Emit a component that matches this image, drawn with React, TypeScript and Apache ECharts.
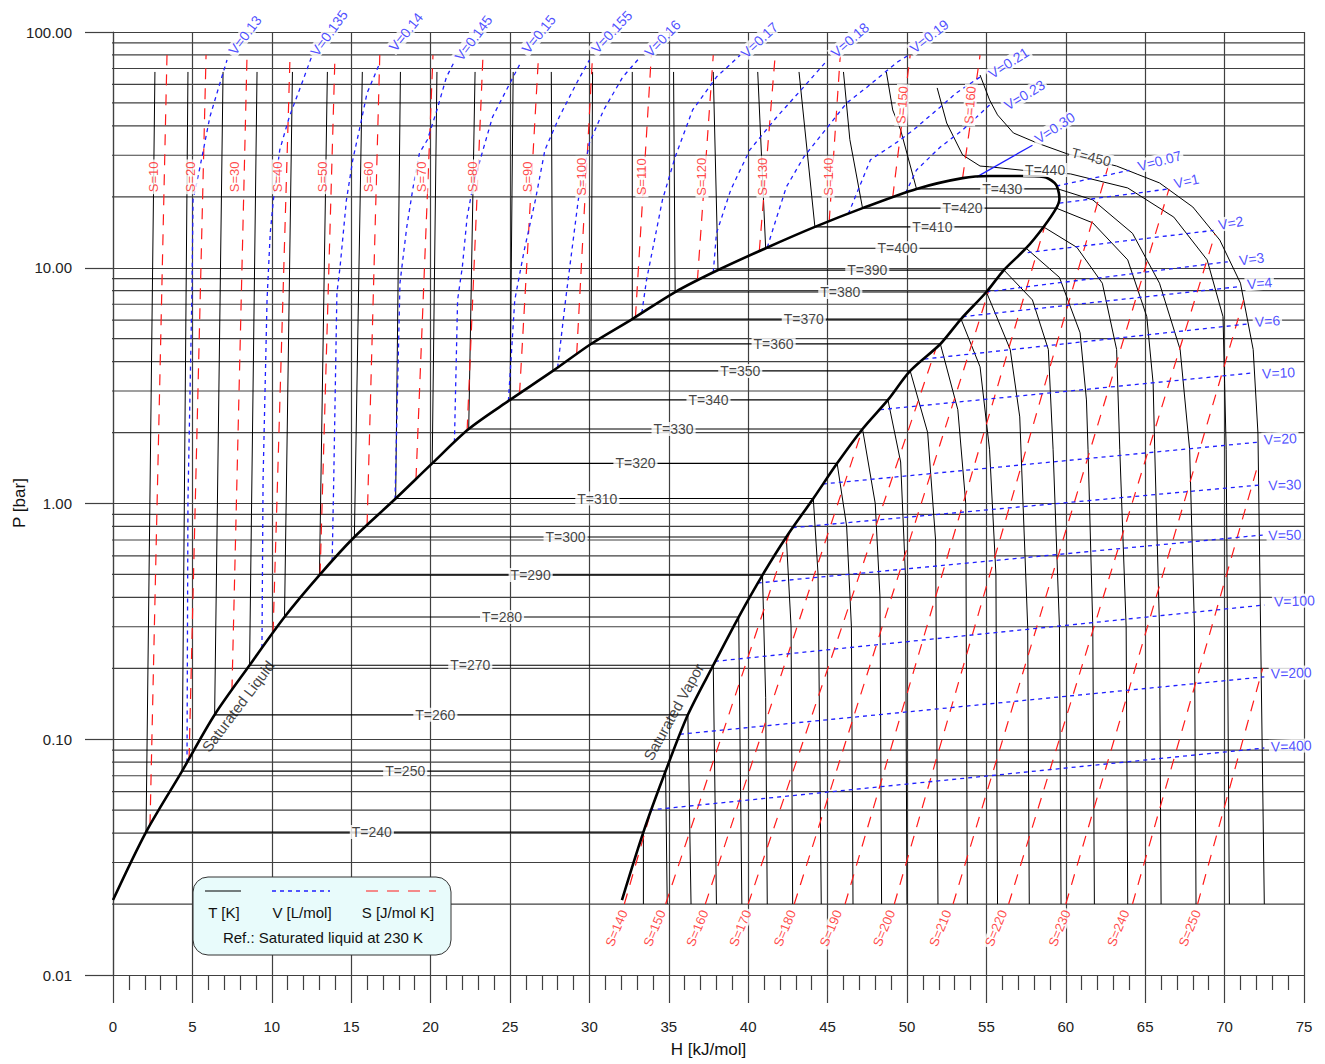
import React, { useEffect, useRef } from "react";
import * as echarts from "echarts";

type Pt = [number, number];
const FONT = '"Liberation Sans", Arial, Helvetica, sans-serif';
const RED = "#ff1a1a";
const BLUE = "#1f1fff";
const BLACK = "#000000";
const GRID = "#404040";

// ---------- axes ----------
const H_MIN = 0;
const H_MAX = 75;
const H_STEP = 5;
const P_MIN = 0.01;
const P_MAX = 100;
const Y_TICK_LABELS = ["0.01", "0.10", "1.00", "10.00", "100.00"];
const X_NAME = "H [kJ/mol]";
const Y_NAME = "P [bar]";
const DECADES = [0.01, 0.1, 1, 10];
const MINOR_MULT = [2, 3, 4, 5, 6, 7, 8, 9];

// ---------- saturation (two-phase) ----------
const T_SAT = [240, 250, 260, 270, 280, 290, 300, 310, 320, 330, 340, 350, 360, 370, 380, 390, 400, 410, 420, 430];
const P_SAT = [0.0404, 0.0733, 0.127, 0.206, 0.33, 0.497, 0.721, 1.05, 1.48, 2.07, 2.75, 3.65, 4.75, 6.06, 7.89, 9.78, 12.1, 14.9, 17.9, 21.6];
const H_LIQ = [2.08, 4.35, 6.4, 8.6, 10.8, 13.0, 15.2, 17.8, 20.1, 22.4, 25.0, 27.7, 30.1, 32.7, 35.4, 38.1, 41.1, 44.2, 47.2, 50.6];
const H_VAP = [33.4, 34.8, 36.2, 37.8, 39.4, 40.9, 42.4, 44.1, 45.6, 47.2, 48.8, 50.2, 52.1, 53.4, 55.0, 56.1, 57.5, 58.6, 59.4, 59.5];
const DOME_START: Pt = [0, 0.0208];
const DOME_TOP: Pt[] = [[53.5, 24.0], [55.2, 24.5], [57.1, 24.5], [58.6, 24.3], [59.3, 22.9]];
const DOME_NOSE: Pt = [59.6, 19.6];
const DOME_END: Pt = [32.05, 0.0208];
const T_LABEL_H = [16.3, 18.4, 20.3, 22.5, 24.5, 26.3, 28.5, 30.5, 32.9, 35.3, 37.5, 39.5, 41.6, 43.5, 45.8, 47.5, 49.4, 51.6, 53.5, 56.0];

// ---------- isotherms, liquid side (from saturated liquid up to the top) ----------
const P_LIQ_TOP = 67.7;
const T_LIQ_TOP_H = [2.64, 4.72, 6.93, 9.07, 11.3, 13.5, 15.7, 18.1, 20.4, 22.8, 25.2, 27.6, 30.2, 32.7, 35.3, 37.8, 40.6, 43.2, 46.0, 48.7];
const T_LIQ_MID: Record<number, Pt[]> = {
  420: [[46.4, 35.0]],
  430: [[49.6, 38.4], [49.1, 46.7]],
};

// ---------- isotherms, vapour side (below the saturated vapour point) ----------
const T_VAP_TAIL: Pt[][] = [
  [[33.4, 0.02]],
  [[34.9, 0.02]],
  [[36.4, 0.02]],
  [[38.0, 0.02]],
  [[39.6, 0.02]],
  [[41.1, 0.15], [41.2, 0.02]],
  [[42.7, 0.3], [42.8, 0.02]],
  [[44.4, 0.5], [44.6, 0.02]],
  [[46.2, 0.8], [46.5, 0.3], [46.6, 0.02]],
  [[48.0, 1.0], [48.3, 0.4], [48.4, 0.02]],
  [[49.6, 1.5], [49.9, 0.5], [50.0, 0.02]],
  [[51.3, 2.0], [51.8, 0.7], [51.95, 0.02]],
  [[53.2, 2.5], [53.7, 1.0], [53.8, 0.02]],
  [[54.6, 3.8], [55.2, 1.69], [55.6, 0.5], [55.7, 0.02]],
  [[56.5, 4.5], [57.1, 2.33], [57.6, 0.3], [57.7, 0.02]],
  [[57.9, 7.3], [58.9, 4.5], [59.2, 1.69], [59.6, 0.3], [59.7, 0.02]],
  [[59.6, 9.1], [60.9, 5.3], [61.3, 2.75], [61.4, 1.69], [61.7, 0.3], [61.8, 0.02]],
  [[60.7, 12.2], [62.3, 8.6], [63.2, 4.5], [63.4, 1.69], [63.8, 0.3], [63.9, 0.02]],
  [[61.7, 15.5], [63.9, 10.8], [65.1, 6.2], [65.5, 3.24], [65.6, 1.69], [65.9, 0.3], [66.0, 0.02]],
  [[61.7, 19.4], [64.2, 14.0], [65.9, 8.6], [67.2, 4.5], [67.8, 1.69], [68.1, 0.3], [68.2, 0.02]],
];

// ---------- supercritical isotherms ----------
const T_440: Pt[] = [[51.9, 57.9], [52.5, 41.1], [53.5, 30.1], [54.6, 27.0], [55.2, 26.8], [57.3, 25.9], [60.3, 25.0], [63.9, 21.8], [66.8, 16.4], [68.9, 10.8], [69.9, 6.2], [70.0, 3.24], [70.1, 1.69], [70.3, 0.02]];
const T_450: Pt[] = [[54.6, 65.7], [55.2, 51.5], [55.7, 44.5], [56.7, 37.3], [58.2, 33.8], [60.1, 30.4], [63.2, 27.0], [65.9, 22.9], [68.0, 18.1], [69.7, 13.1], [71.0, 8.6], [71.8, 4.5], [72.1, 1.99], [72.5, 0.02]];
const T_440_LABEL: Pt = [58.7, 26.0];
const T_450_LABEL: Pt = [61.6, 29.5];

// ---------- isentropes, liquid side ----------
const S_LIQ_VALUES = [10, 20, 30, 40, 50, 60, 70, 80, 90, 100, 110, 120, 130, 140, 150, 160];
const S_LIQ_BOTTOM: Pt[] = [[2.33, 0.0432], [4.79, 0.0824], [7.49, 0.161], [10.08, 0.283], [13.04, 0.5], [16.0, 0.809], [19.08, 1.27], [22.3, 2.04], [25.6, 2.92], [29.2, 4.31], [32.9, 6.17], [36.8, 8.81], [40.7, 11.8], [45.1, 15.7], [49.1, 19.9], [53.5, 24.0]];
const S_LIQ_TOP_H = [3.4, 5.86, 8.44, 11.15, 13.98, 16.8, 20.15, 23.3, 26.8, 30.2, 33.9, 37.8, 41.7, 45.8, 50.2, 54.6];
const P_S_TOP = 79.8;
const S_LIQ_LABEL_H = [2.58, 4.91, 7.68, 10.39, 13.22, 16.12, 19.4, 22.67, 26.13, 29.53, 33.31, 37.09, 40.93, 45.03, 49.69, 53.97];
const S_LIQ_LABEL_P = [24.3, 24.3, 24.3, 24.3, 24.3, 24.3, 24.3, 24.3, 24.3, 24.3, 24.3, 24.3, 24.3, 24.3, 49.0, 49.0];

// ---------- isentropes, vapour side ----------
const S_VAP_VALUES = [140, 150, 160, 170, 180, 190, 200, 210, 220, 230, 240, 250];
const S_VAP_BOTTOM_H = [32.2, 34.8, 37.3, 40.0, 42.9, 46.1, 49.2, 52.9, 56.4, 60.0, 64.2, 68.3];
const P_BOTTOM = 0.02;
const S_VAP_END: Pt[] = [[33.9, 0.0501], [42.6, 0.75], [47.2, 2.07], [51.8, 4.5], [55.2, 8.2], [58.7, 15.2], [62.7, 27.4], [66.5, 21.6], [69.4, 13.9], [71.2, 7.3], [72.15, 1.5], [72.4, 0.2]];
const S_VAP_LABEL_H = [31.7, 34.1, 36.8, 39.5, 42.3, 45.2, 48.55, 52.1, 55.6, 59.6, 63.3, 67.8];
const S_VAP_LABEL_P = 0.0158;

// ---------- isochores, liquid side ----------
const V_LIQ_NAMES = ["0.13", "0.135", "0.14", "0.145", "0.15", "0.155", "0.16", "0.17", "0.18", "0.19", "0.21", "0.23", "0.30"];
const V_LIQ_LINES: Pt[][] = [
  [[4.66, 0.0796], [4.72, 1.03], [4.97, 7.8], [5.04, 19.4], [5.48, 26.8], [6.1, 43.6], [6.74, 60.8], [7.18, 76.1]],
  [[9.38, 0.244], [9.45, 1.26], [9.7, 7.3], [9.9, 14.0], [10.1, 19.4], [10.5, 31.6], [11.1, 43.6], [11.9, 60.8], [12.5, 78.3]],
  [[13.8, 0.569], [13.9, 1.26], [14.1, 7.8], [14.3, 10.1], [14.7, 19.4], [15.1, 28.7], [15.55, 39.5], [16.0, 55.1], [16.8, 73.8]],
  [[17.76, 1.04], [18.07, 8.6], [18.5, 14.9], [18.9, 22.0], [19.3, 30.7], [19.8, 34.9], [20.4, 46.7], [21.0, 64.4], [21.5, 75.0]],
  [[21.5, 1.82], [21.7, 7.3], [22.0, 10.1], [22.3, 16.4], [22.7, 22.9], [23.3, 31.6], [23.9, 43.6], [25.1, 62.6], [25.6, 72.5]],
  [[24.9, 2.72], [25.3, 7.3], [25.9, 11.9], [26.6, 19.4], [27.2, 31.6], [28.1, 43.6], [29.2, 60.8], [30.0, 76.1]],
  [[28.0, 3.77], [28.5, 7.3], [28.9, 11.9], [29.3, 19.4], [30.0, 33.8], [30.9, 46.7], [32.1, 64.4], [33.2, 78.3]],
  [[33.3, 6.43], [33.6, 8.9], [34.1, 13.1], [34.6, 19.4], [35.4, 29.5], [36.5, 46.7], [38.0, 64.4], [39.5, 79.8]],
  [[37.8, 9.55], [38.0, 14.0], [38.9, 21.4], [40.1, 31.6], [41.8, 43.6], [43.5, 58.5], [45.0, 76.1]],
  [[41.2, 12.2], [41.8, 16.4], [42.4, 22.0], [43.5, 29.5], [45.0, 39.5], [46.2, 50.0], [47.5, 58.5], [49.4, 74.6], [50.1, 79.8]],
  [[46.3, 16.9], [47.7, 28.7], [49.4, 34.2], [50.4, 38.4], [52.1, 48.1], [53.1, 55.1], [54.6, 64.4]],
  [[49.9, 20.7], [50.6, 26.0], [52.1, 32.5], [53.5, 38.4], [55.2, 49.0]],
  [[54.4, 24.3], [57.9, 33.1]],
];
const V_LIQ_LABEL: Pt[] = [[8.31, 97], [13.6, 99], [18.45, 100], [22.7, 94.3], [26.8, 98], [31.4, 100], [34.6, 94], [40.7, 92.5], [46.4, 92.5], [51.4, 96], [56.4, 73.9], [57.4, 54.1], [59.3, 39.2]];
const V_LIQ_ROT = [53, 54, 51, 53, 51, 47, 46, 43, 41, 38, 33, 31, 33];

// ---------- isochores, vapour side ----------
const V_VAP_NAMES = ["0.07", "1", "2", "3", "4", "6", "10", "20", "30", "50", "100", "200", "400"];
const V_VAP_START: Pt[] = [[59.4, 22.2], [59.6, 18.8], [57.6, 11.6], [55.0, 7.9], [53.5, 6.2], [51.1, 4.1], [48.3, 2.5], [44.7, 1.21], [42.8, 0.79], [40.6, 0.46], [37.9, 0.214], [35.7, 0.105], [33.8, 0.0501]];
const V_VAP_END: Pt[] = [[64.0, 25.9], [66.5, 21.6], [69.3, 14.4], [70.2, 10.6], [70.8, 8.3], [71.4, 5.77], [71.8, 3.58], [72.1, 1.82], [72.35, 1.2], [72.4, 0.735], [72.5, 0.371], [72.5, 0.184], [72.5, 0.0918]];
const V_VAP_LABEL: Pt[] = [[65.9, 28.4], [67.6, 23.3], [70.4, 15.5], [71.7, 10.9], [72.2, 8.6], [72.7, 5.94], [73.4, 3.58], [73.5, 1.88], [73.8, 1.2], [73.8, 0.735], [74.4, 0.386], [74.2, 0.191], [74.2, 0.0936]];
const V_VAP_ROT = [15, 13, 10, 7, 5, 4, 3, 3, 2, 2, 2, 2, 2];

// ---------- other texts ----------
const SAT_LIQ_TEXT = { text: "Saturated Liquid", at: [7.87, 0.138] as Pt, rot: 53 };
const SAT_VAP_TEXT = { text: "Saturated Vapor", at: [35.3, 0.1306] as Pt, rot: 61 };
const LEGEND_ITEMS = ["T [K]", "V [L/mol]", "S [J/mol K]"];
const LEGEND_REF = "Ref.: Saturated liquid at 230 K";

type Lbl = { at: Pt; text: string; rot?: number; color: string; size?: number; bg?: boolean };

function lineSeries(data: Pt[], color: string, width: number, type: any, z = 2, clip = true) {
  return {
    type: "line",
    data,
    symbol: "none",
    showSymbol: false,
    silent: true,
    clip,
    z,
    lineStyle: { color, width, type, cap: "butt" },
  };
}

export default function App() {
  const ref = useRef<HTMLDivElement>(null);

  useEffect(() => {
    if (!ref.current) return;
    const chart = echarts.init(ref.current, undefined, { renderer: "svg" });
    const series: any[] = [];

    // minor horizontal grid lines (extend a little left of the axis)
    DECADES.forEach((d) => {
      MINOR_MULT.forEach((m) => {
        const p = d * m;
        series.push(lineSeries([[-0.88, p], [H_MAX, p]], GRID, 1.2, "solid", 1, false));
      });
    });

    // two-phase isotherms
    T_SAT.forEach((_, i) => {
      series.push(lineSeries([[H_LIQ[i], P_SAT[i]], [H_VAP[i], P_SAT[i]]], BLACK, 1.2, "solid", 3));
    });
    // liquid isotherms
    T_SAT.forEach((t, i) => {
      const pts: Pt[] = [[H_LIQ[i], P_SAT[i]], ...(T_LIQ_MID[t] || []), [T_LIQ_TOP_H[i], P_LIQ_TOP]];
      series.push(lineSeries(pts, BLACK, 1, "solid", 3));
    });
    // vapour isotherms
    T_SAT.forEach((_, i) => {
      const pts: Pt[] = [[H_VAP[i], P_SAT[i]], ...T_VAP_TAIL[i]];
      series.push(lineSeries(pts, BLACK, 1, "solid", 3));
    });
    series.push(lineSeries(T_440, BLACK, 1, "solid", 3));
    series.push(lineSeries(T_450, BLACK, 1, "solid", 3));

    // isentropes
    S_LIQ_VALUES.forEach((_, i) => {
      series.push(lineSeries([S_LIQ_BOTTOM[i], [S_LIQ_TOP_H[i], P_S_TOP]], RED, 1.2, [11, 9], 4));
    });
    S_VAP_VALUES.forEach((_, i) => {
      series.push(lineSeries([[S_VAP_BOTTOM_H[i], P_BOTTOM], S_VAP_END[i]], RED, 1.2, [11, 9], 4));
    });

    // isochores
    V_LIQ_LINES.forEach((pts, i) => {
      const solid = V_LIQ_NAMES[i] === "0.30";
      series.push(lineSeries(pts, BLUE, 1.3, solid ? "solid" : [4, 4], 5));
    });
    V_VAP_NAMES.forEach((_, i) => {
      series.push(lineSeries([V_VAP_START[i], V_VAP_END[i]], BLUE, 1.3, [4, 4], 5));
    });

    // saturation dome
    const dome: Pt[] = [DOME_START];
    T_SAT.forEach((_, i) => dome.push([H_LIQ[i], P_SAT[i]]));
    DOME_TOP.forEach((p) => dome.push(p));
    dome.push([H_VAP[H_VAP.length - 1], P_SAT[P_SAT.length - 1]]);
    dome.push(DOME_NOSE);
    for (let i = T_SAT.length - 2; i >= 0; i--) dome.push([H_VAP[i], P_SAT[i]]);
    dome.push(DOME_END);
    series.push({ ...lineSeries(dome, BLACK, 2.6, "solid", 6), smooth: 0.3 });

    // labels
    const labels: Lbl[] = [];
    T_SAT.forEach((t, i) => labels.push({ at: [T_LABEL_H[i], P_SAT[i]], text: `T=${t}`, color: "#111", size: 14 }));
    labels.push({ at: T_440_LABEL, text: "T=440", color: "#111", size: 14 });
    labels.push({ at: T_450_LABEL, text: "T=450", color: "#111", size: 14, rot: -14 });
    S_LIQ_VALUES.forEach((s, i) => labels.push({ at: [S_LIQ_LABEL_H[i], S_LIQ_LABEL_P[i]], text: `S=${s}`, color: RED, size: 13, rot: i >= 14 ? 86 : 90 }));
    S_VAP_VALUES.forEach((s, i) => labels.push({ at: [S_VAP_LABEL_H[i], S_VAP_LABEL_P], text: `S=${s}`, color: RED, size: 13, rot: 67 }));
    V_LIQ_NAMES.forEach((v, i) => labels.push({ at: V_LIQ_LABEL[i], text: `V=${v}`, color: BLUE, size: 14, rot: V_LIQ_ROT[i] }));
    V_VAP_NAMES.forEach((v, i) => labels.push({ at: V_VAP_LABEL[i], text: `V=${v}`, color: BLUE, size: 14, rot: V_VAP_ROT[i] }));
    labels.push({ at: SAT_LIQ_TEXT.at, text: SAT_LIQ_TEXT.text, color: "#111", size: 15, rot: SAT_LIQ_TEXT.rot, bg: false });
    labels.push({ at: SAT_VAP_TEXT.at, text: SAT_VAP_TEXT.text, color: "#111", size: 15, rot: SAT_VAP_TEXT.rot, bg: false });

    series.push({
      type: "scatter",
      silent: true,
      clip: false,
      z: 10,
      symbolSize: 1,
      itemStyle: { color: "rgba(0,0,0,0)" },
      data: labels.map((l) => ({
        value: l.at,
        label: {
          show: true,
          position: "inside",
          formatter: l.text,
          rotate: l.rot || 0,
          color: l.color,
          fontSize: l.size || 13,
          fontFamily: FONT,
          backgroundColor: l.bg === false ? "transparent" : "#ffffff",
          padding: [0, 2],
        },
      })),
    });

    chart.setOption({
      animation: false,
      backgroundColor: "#ffffff",
      grid: { left: 113, top: 32, width: 1191, height: 943, containLabel: false, outerBoundsMode: "none" },
      xAxis: {
        type: "value",
        min: H_MIN,
        max: H_MAX,
        interval: H_STEP,
        name: X_NAME,
        nameLocation: "middle",
        nameGap: 66,
        nameTextStyle: { fontSize: 17, color: "#111", fontFamily: FONT },
        axisLine: { show: true, lineStyle: { color: GRID, width: 1.2 } },
        axisTick: { show: true, length: 28, lineStyle: { color: GRID, width: 1.2 } },
        minorTick: { show: true, splitNumber: 5, length: 15, lineStyle: { color: GRID, width: 1.2 } },
        axisLabel: { margin: 44, fontSize: 15, color: "#222", fontFamily: FONT },
        splitLine: { show: true, lineStyle: { color: GRID, width: 1.2 } },
      },
      yAxis: {
        type: "log",
        logBase: 10,
        min: P_MIN,
        max: P_MAX,
        axisLine: { show: true, lineStyle: { color: GRID, width: 1.2 } },
        axisTick: { show: true, length: 28, lineStyle: { color: GRID, width: 1.2 } },
        axisLabel: {
          margin: 41,
          fontSize: 15,
          color: "#222",
          fontFamily: FONT,
          formatter: (_v: number, i: number) => Y_TICK_LABELS[i] ?? String(_v),
        },
        splitLine: { show: true, lineStyle: { color: GRID, width: 1.2 } },
      },
      series,
      graphic: [
        {
          type: "text",
          x: 19,
          y: 503,
          rotation: Math.PI / 2,
          style: { text: Y_NAME, fill: "#111", font: `17px ${FONT}`, textAlign: "center", textVerticalAlign: "middle" },
        },
        {
          type: "rect",
          z: 100,
          shape: { x: 193, y: 877, width: 258, height: 78, r: 15 },
          style: { fill: "#e8fbfb", stroke: "#333", lineWidth: 1 },
        },
        { type: "line", z: 101, shape: { x1: 205, y1: 891, x2: 241, y2: 891 }, style: { stroke: BLACK, lineWidth: 1.2 } },
        { type: "line", z: 101, shape: { x1: 272, y1: 891, x2: 330, y2: 891 }, style: { stroke: BLUE, lineWidth: 1.3, lineDash: [4, 4] } },
        { type: "line", z: 101, shape: { x1: 366, y1: 891, x2: 436, y2: 891 }, style: { stroke: RED, lineWidth: 1.2, lineDash: [12, 9] } },
        { type: "text", z: 101, x: 224, y: 912, style: { text: LEGEND_ITEMS[0], fill: "#111", font: `15px ${FONT}`, textAlign: "center", textVerticalAlign: "middle" } },
        { type: "text", z: 101, x: 302, y: 912, style: { text: LEGEND_ITEMS[1], fill: "#111", font: `15px ${FONT}`, textAlign: "center", textVerticalAlign: "middle" } },
        { type: "text", z: 101, x: 398, y: 912, style: { text: LEGEND_ITEMS[2], fill: "#111", font: `15px ${FONT}`, textAlign: "center", textVerticalAlign: "middle" } },
        { type: "text", z: 101, x: 323, y: 937, style: { text: LEGEND_REF, fill: "#111", font: `15px ${FONT}`, textAlign: "center", textVerticalAlign: "middle" } },
      ],
    });

    return () => chart.dispose();
  }, []);

  return (
    <div
      ref={ref}
      style={{ position: "absolute", left: 0, top: 0, width: 1325, height: 1064, background: "#fff" }}
    />
  );
}
